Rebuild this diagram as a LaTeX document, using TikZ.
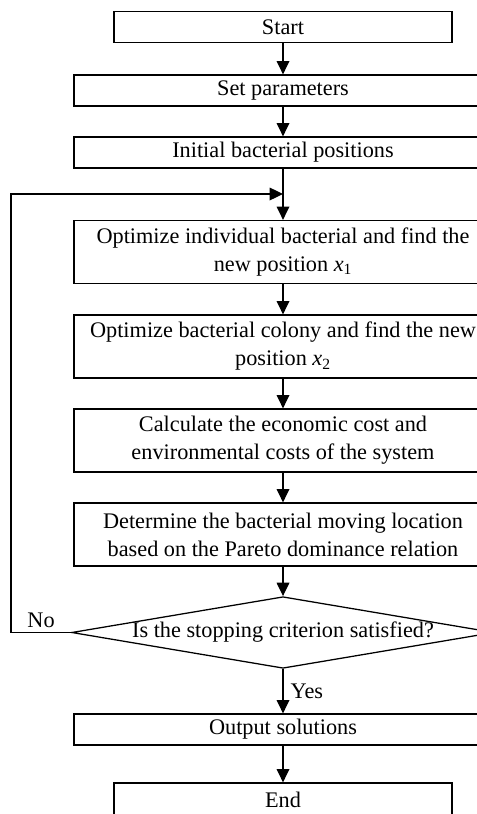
\documentclass[tikz,border=0pt]{standalone}
\usepackage{fontspec}
\setmainfont{Liberation Serif}
\usetikzlibrary{shapes.geometric,arrows.meta}

\begin{document}
\begin{tikzpicture}[x=0.75pt,y=-0.75pt,>={Triangle[length=10pt,width=9.5pt]},
  line width=0.95pt,
  every node/.style={font=\fontsize{16.7}{21}\selectfont},
  termbox/.style={draw,rectangle,minimum width=253.5pt,minimum height=23.25pt,inner sep=0pt},
  procbox/.style={draw,rectangle,minimum width=313.5pt,minimum height=23.25pt,inner sep=0pt,align=center},
  tallbox/.style={procbox,minimum height=47.25pt},
  decbox/.style={draw,diamond,aspect=5.9,minimum width=316.5pt,minimum height=53.25pt,inner sep=0pt}]
  % Page frame (the chart runs off the page on the right and at the bottom).
  \useasboundingbox (0,0) rectangle (476,814);
  % Boxes, top to bottom.
  \node[termbox] (start) at (283,27) {Start};
  \node[procbox] (param) at (283,90.5) {Set parameters};
  \node[procbox] (init) at (283,152.5) {Initial bacterial positions};
  \node[tallbox] (indiv) at (283,252) {Optimize individual bacterial and find the\\new position \textit{x}\textsubscript{1}};
  \node[tallbox] (colony) at (283,346.5) {Optimize bacterial colony and find the new\\position \textit{x}\textsubscript{2}};
  \node[tallbox] (cost) at (283,440.5) {Calculate the economic cost and\\environmental costs of the system};
  \node[tallbox] (pareto) at (283,534.5) {Determine the bacterial moving location\\based on the Pareto dominance relation};
  \node[decbox] (stop) at (283,632.5) {Is the stopping criterion satisfied?};
  \node[procbox] (output) at (283,729.5) {Output solutions};
  \node[termbox,minimum height=25.5pt] (end) at (283,800) {End};
  % Where the loop joins the main line.
  \coordinate (merge) at (283,194);
  % Main flow.
  \draw[->] (start) -- (param);
  \draw[->] (param) -- (init);
  \draw[->] (init) -- (indiv);
  \draw[->] (indiv) -- (colony);
  \draw[->] (colony) -- (cost);
  \draw[->] (cost) -- (pareto);
  \draw[->] (pareto) -- (stop);
  \draw[->] (stop) -- node[right,xshift=2pt] {Yes} (output);
  \draw[->] (output) -- (end);
  % Back to the top when not done.
  \draw[->] (stop.west) -- node[above,pos=0.5] {No} ++(-60,0) |- (merge);
\end{tikzpicture}
\end{document}
